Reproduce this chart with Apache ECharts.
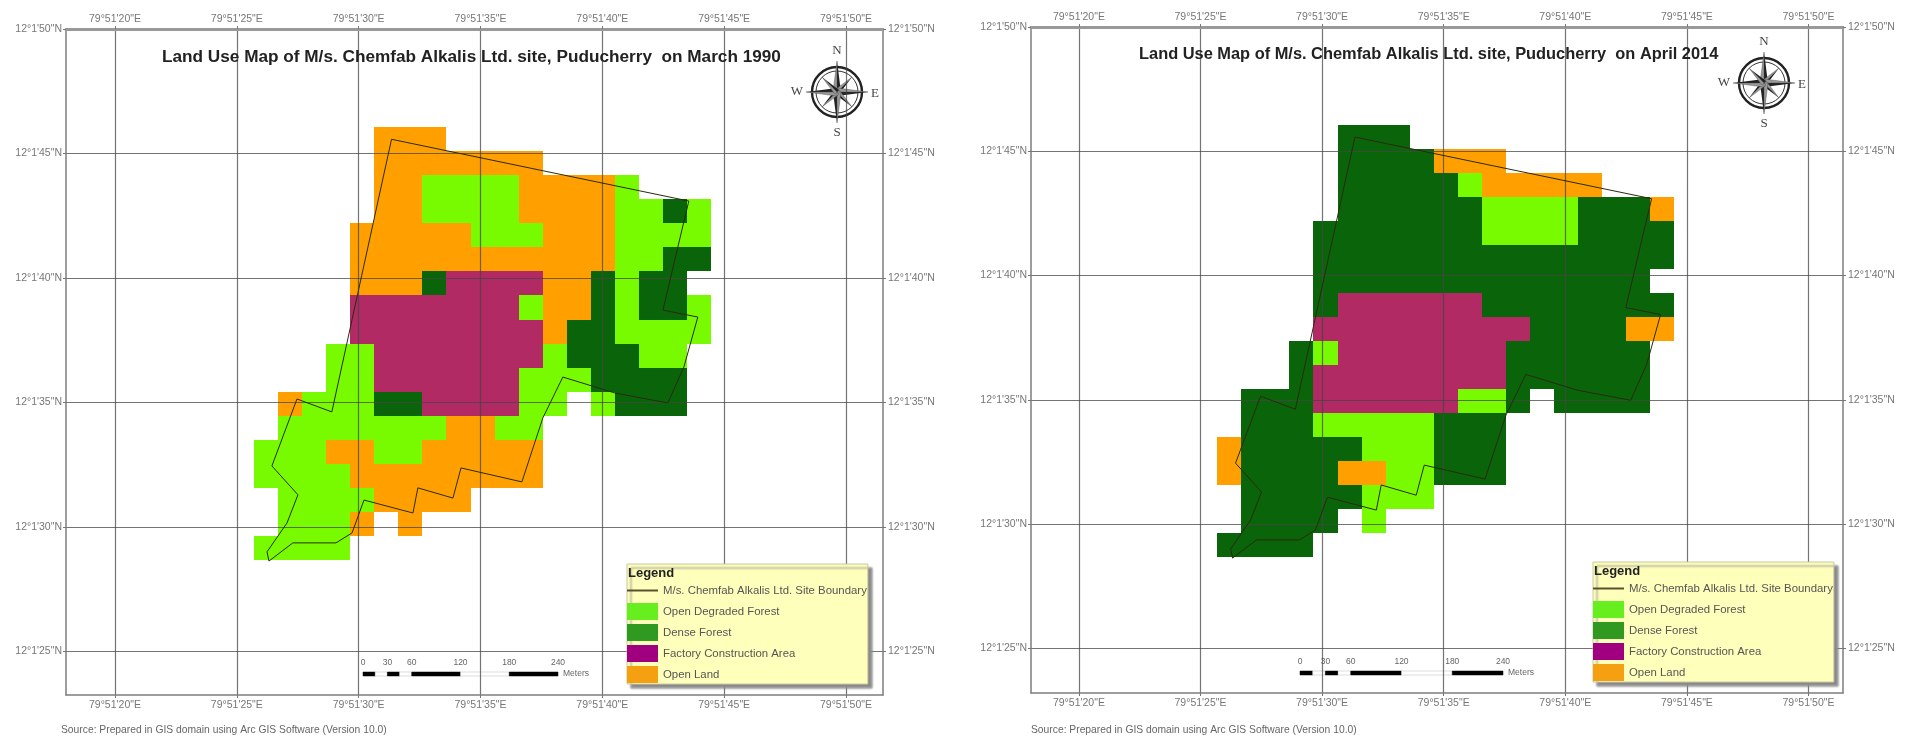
<!DOCTYPE html>
<html>
<head>
<meta charset="utf-8">
<style>html,body{margin:0;padding:0;background:#fff}#c{width:1914px;height:737px;filter:blur(0.4px)}</style>
<script src="https://cdn.jsdelivr.net/npm/echarts@6/dist/echarts.min.js"></script>
</head>
<body>
<div id="c"></div>
<script>
// Land-use classes
const classNames = ['Open Degraded Forest','Dense Forest','Factory Construction Area','Open Land'];
const classCodes = ['G','D','P','O'];
const classColors = ['#78fb00','#0a640a','#b12a63','#ffa000'];
const legendColors = ['#66ee1e','#2f9a1f','#a00080','#f5a010'];
const boundaryName = "M/s. Chemfab Alkalis Ltd. Site Boundary";
const titles = ['Land Use Map of M/s. Chemfab Alkalis Ltd. site, Puducherry  on March 1990',
                'Land Use Map of M/s. Chemfab Alkalis Ltd. site, Puducherry  on April 2014'];
const sources = ['Source: Prepared in GIS domain using Arc GIS Software (Version 10.0)',
                 'Source: Prepared in GIS domain using Arc GIS Software (Version 10.0)'];
// tick values: seconds of longitude / latitude
const lonTicks = [20,25,30,35,40,45,50];
const latTicks = [25,30,35,40,45,50];
// raster cells (1 row per line, west to east, north to south)
const raster1990 = [
  '.....OOO...........',
  '.....OOOOOOO.......',
  '.....OOGGGGOOOOG...',
  '.....OOGGGGOOOOGGDG',
  '....OOOOOGGGOOOGGGG',
  '....OOOOOOOOOOOGGDD',
  '....OOODPPPPOODGDD.',
  '....PPPPPPPGOODGDDG',
  '....PPPPPPPPODDGGGG',
  '...GGPPPPPPPGDDDGG.',
  '...GGPPPPPPGGGDDDD.',
  '.OGGGDDPPPPGG.GDDD.',
  '.GGGGGGGOOGG.......',
  'GGGOOGGOOOOO.......',
  'GGGGOOOOOOOO.......',
  '.GGGGOOOO..........',
  '.GGGO.O............',
  'GGGG...............'
];
const raster2014 = [
  '.....DDD...........',
  '.....DDDDOOO.......',
  '.....DDDDDGOOOOO...',
  '.....DDDDDDGGGGDDDO',
  '....DDDDDDDGGGGDDDD',
  '....DDDDDDDDDDDDDDD',
  '....DDDDDDDDDDDDDD.',
  '....DPPPPPPDDDDDDDD',
  '....PPPPPPPPPDDDDOO',
  '...DGPPPPPPPDDDDDD.',
  '...DPPPPPPPPDDDDDD.',
  '.DDDPPPPPPGGD.DDDD.',
  '.DDDGGGGGDDD.......',
  'ODDDDDGGGDDD.......',
  'ODDDDOOGGDDD.......',
  '.DDDDDGGG..........',
  '.DDDD.G............',
  'DDDD...............'
];
// raster placement in seconds of arc
const rasterLon0 = 25.69, rasterLat0 = 46.06, cellLon = 0.989, cellLat = 0.966;
// site boundary, seconds of arc [lon, lat]
const boundary = [[31.35,45.57],[43.55,43.09],[43.10,41.24],[42.49,38.71],[43.92,38.43],[43.35,36.43],
  [42.69,34.98],[40.52,35.38],[38.38,36.02],[37.56,34.38],[36.70,31.81],[34.20,32.37],[33.87,31.16],
  [32.43,31.57],[32.23,30.56],[30.22,31.08],[29.73,29.76],[29.07,29.36],[27.30,29.36],[26.32,28.63],
  [26.24,29.00],[27.06,30.16],[27.51,31.29],[26.44,32.45],[27.47,35.14],[28.90,34.62],[31.35,45.57]];

const FONT = '"Liberation Sans", Arial, sans-serif';
const panels = [
  {raster:raster1990, grid:{left:66,top:29,width:817,height:666}, lon:[17.99,51.52], lat:[23.25,50],
   legend:{left:627,top:564}, title:{x:162,y:57,size:17.2}, src:{x:61,y:730}, comp:{x:837,y:92}, bar:{x:363,w:195,y:672}},
  {raster:raster2014, grid:{left:1031,top:27,width:812,height:666}, lon:[18.03,51.42], lat:[23.2,50],
   legend:{left:1593,top:562}, title:{x:1139,y:54,size:16.4}, src:{x:1031,y:730}, comp:{x:1764,y:83}, bar:{x:1300,w:203,y:671}}
];

function cellsOf(raster, code){
  const out=[];
  raster.forEach((row,r)=>{ for(let c=0;c<row.length;c++){ if(row[c]===code){
    out.push([rasterLon0+c*cellLon, rasterLat0-r*cellLat, rasterLon0+(c+1)*cellLon, rasterLat0-(r+1)*cellLat]);
  }}});
  return out;
}
function renderCell(params, api){
  const a=api.coord([api.value(0),api.value(1)]), b=api.coord([api.value(2),api.value(3)]);
  const x0=Math.round(a[0]), y0=Math.round(a[1]), x1=Math.round(b[0]), y1=Math.round(b[1]);
  return {type:'rect',shape:{x:x0,y:y0,width:x1-x0,height:y1-y0},style:{fill:api.visual('color')}};
}
const labelBase={color:'#777',fontSize:10.5,fontFamily:FONT};
const grids=[],xAxes=[],yAxes=[],series=[],legends=[],graphics=[];

function compass(cx,cy){
  const kids=[];
  kids.push({type:'circle',shape:{cx:0,cy:0,r:25},style:{fill:'none',stroke:'#222',lineWidth:2.4}});
  kids.push({type:'circle',shape:{cx:0,cy:0,r:21},style:{fill:'none',stroke:'#333',lineWidth:1}});
  for(let i=0;i<16;i++){
    const ang=i*Math.PI/8, major=i%4===0, mid=i%4===2;
    if(!major&&!mid) continue;
    const L=major?31:21, w=major?4:3;
    const tip=[L*Math.sin(ang),-L*Math.cos(ang)];
    const s1=[w*Math.cos(ang),w*Math.sin(ang)], s2=[-s1[0],-s1[1]];
    kids.push({type:'polygon',shape:{points:[[0,0],tip,s1]},style:{fill:'#222'}});
    kids.push({type:'polygon',shape:{points:[[0,0],tip,s2]},style:{fill:'#999',stroke:'#444',lineWidth:0.4}});
  }
  const letters=[['N',0,-41],['S',0,41],['W',-40,0],['E',38,2]];
  letters.forEach(l=>kids.push({type:'text',x:l[1],y:l[2],style:{text:l[0],fill:'#444',font:'13px "Liberation Serif", serif',textAlign:'center',textVerticalAlign:'middle'}}));
  return {type:'group',x:cx,y:cy,z:30,children:kids};
}
const barMeters=[0,15,30,45,60,120,180,240];
const barLabels=[0,30,60,120,180,240];
function scaleBar(b){
  const kids=[];
  const px=m=>b.x+b.w*m/240;
  for(let i=0;i<barMeters.length-1;i++){
    kids.push({type:'rect',shape:{x:px(barMeters[i]),y:b.y,width:px(barMeters[i+1])-px(barMeters[i]),height:4},
      style:{fill:i%2===0?'#000':'#fff',stroke:i%2===0?'#000':'#bbb',lineWidth:0.5}});
  }
  barLabels.forEach(m=>kids.push({type:'text',x:px(m),y:b.y-9,style:{text:String(m),fill:'#666',font:'8.5px '+FONT,textAlign:'center',textVerticalAlign:'middle'}}));
  kids.push({type:'text',x:b.x+b.w+5,y:b.y+2,style:{text:'Meters',fill:'#666',font:'8.5px '+FONT,textVerticalAlign:'middle'}});
  return {type:'group',z:30,children:kids};
}

panels.forEach((p,i)=>{
  grids.push(Object.assign({containLabel:false,show:false},p.grid));
  const xi=xAxes.length, yi=yAxes.length;
  const lonFmt=v=>`79°51'${v}"E`, latFmt=v=>`12°1'${v}"N`;
  const axisLine={show:true,lineStyle:{color:'#7d7d7d',width:1.5}};
  const tick={show:true,length:3,lineStyle:{color:'#777'},customValues:lonTicks};
  const split={show:true,lineStyle:{color:'rgba(70,70,70,0.75)',width:1.2}};
  xAxes.push({type:'value',gridIndex:i,position:'bottom',min:p.lon[0],max:p.lon[1],z:3,
    axisLine,axisTick:tick,splitLine:split,
    axisLabel:Object.assign({customValues:lonTicks,formatter:lonFmt,margin:5},labelBase)});
  xAxes.push({type:'value',gridIndex:i,position:'top',min:p.lon[0],max:p.lon[1],z:3,
    axisLine:{show:true,lineStyle:{color:'#999',width:3}},axisTick:tick,splitLine:{show:false},
    axisLabel:Object.assign({customValues:lonTicks,formatter:lonFmt,margin:4},labelBase)});
  const ytick=Object.assign({},tick,{customValues:latTicks});
  yAxes.push({type:'value',gridIndex:i,position:'left',min:p.lat[0],max:p.lat[1],z:3,
    axisLine,axisTick:ytick,splitLine:split,
    axisLabel:Object.assign({customValues:latTicks,formatter:latFmt,margin:4},labelBase)});
  yAxes.push({type:'value',gridIndex:i,position:'right',min:p.lat[0],max:p.lat[1],z:3,
    axisLine,axisTick:ytick,splitLine:{show:false},
    axisLabel:Object.assign({customValues:latTicks,formatter:latFmt,margin:5},labelBase)});
  classCodes.forEach((code,k)=>{
    series.push({type:'custom',name:classNames[k],xAxisIndex:xi,yAxisIndex:yi,z:1,silent:true,
      itemStyle:{color:classColors[k]},renderItem:renderCell,encode:{x:[0,2],y:[1,3]},
      data:cellsOf(p.raster,code),clip:true,animation:false});
  });
  series.push({type:'line',name:boundaryName,xAxisIndex:xi,yAxisIndex:yi,z:6,symbol:'none',silent:true,animation:false,
    lineStyle:{color:'#2a2a10',width:1},itemStyle:{color:'#5a5030'},data:boundary});
  legends.push({left:p.legend.left,top:p.legend.top,orient:'vertical',z:20,selectedMode:false,
    backgroundColor:'#ffffbc',borderColor:'#c8c8a0',borderWidth:1,shadowColor:'#8a8a8a',shadowBlur:2,shadowOffsetX:4,shadowOffsetY:4,
    padding:[18,1,1,0],itemWidth:31,itemHeight:17,itemGap:4,itemStyle:{borderWidth:0},
    textStyle:{color:'#555',fontSize:11.4,fontFamily:FONT},
    data:[{name:boundaryName,icon:'path://M0,0 M0,7.5 H31 V9.5 H0 Z M31,17',itemStyle:{color:'#5a5030'}}]
      .concat(classNames.map((n,k)=>({name:n,icon:'rect',itemStyle:{color:legendColors[k]}})))});
  graphics.push({type:'text',x:p.legend.left+1,y:p.legend.top+9,z:30,style:{text:'Legend',fill:'#222',font:'bold 13px '+FONT,textVerticalAlign:'middle'}});
  graphics.push({type:'text',x:p.title.x,y:p.title.y,z:30,style:{text:titles[i],fill:'#222',font:'bold '+p.title.size+'px '+FONT,textVerticalAlign:'middle'}});
  graphics.push({type:'text',x:p.src.x,y:p.src.y,z:30,style:{text:sources[i],fill:'#666',font:'10.3px '+FONT,textVerticalAlign:'middle'}});
  graphics.push(compass(p.comp.x,p.comp.y));
  graphics.push(scaleBar(p.bar));
});

const chart=echarts.init(document.getElementById('c'),null,{renderer:'canvas'});
chart.setOption({animation:false,backgroundColor:'#fff',tooltip:{show:false},
  grid:grids,xAxis:xAxes,yAxis:yAxes,series,legend:legends,graphic:{elements:graphics}});
</script>
</body>
</html>
